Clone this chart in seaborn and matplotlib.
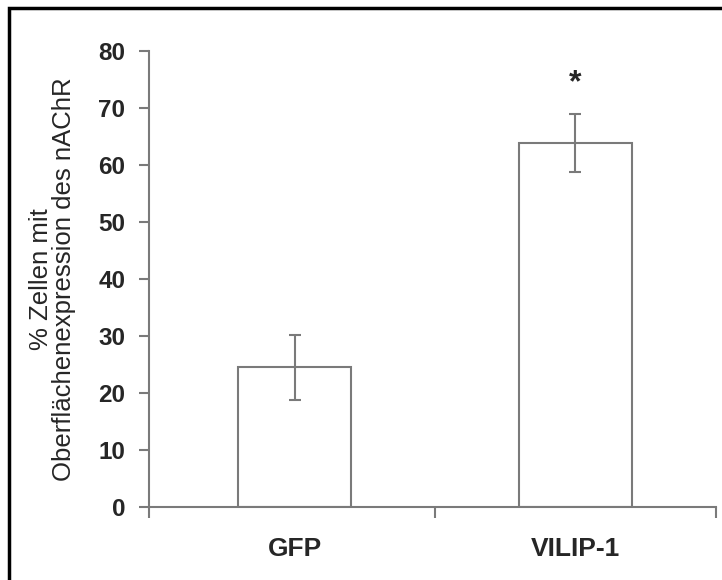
import seaborn as sns
import matplotlib.pyplot as plt
import pandas as pd

# Daten
gruppen = ["GFP", "VILIP-1"]
mittelwerte = [24.5, 63.9]
fehler = [5.7, 5.1]
signifikanz = ["", "*"]

df = pd.DataFrame({"gruppe": gruppen, "wert": mittelwerte})

sns.set_style("ticks")
plt.rcParams["font.family"] = ["Liberation Sans", "DejaVu Sans"]

grau = "#7a7a7a"

fig = plt.figure(figsize=(7.22, 5.80), dpi=100)
ax = fig.add_axes([0.2064, 0.126, 0.785, 0.786])

sns.barplot(x="gruppe", y="wert", data=df, ax=ax, color="white",
            edgecolor=grau, linewidth=1.5, width=0.40, errorbar=None)

# Fehlerbalken
ax.errorbar(range(len(gruppen)), mittelwerte, yerr=fehler, fmt="none",
            ecolor=grau, elinewidth=1.5, capsize=4, capthick=1.5)

# Sternchen
for i, (m, f, s) in enumerate(zip(mittelwerte, fehler, signifikanz)):
    if s:
        ax.text(i, m + f + 5.3, s, ha="center", va="center",
                fontsize=23, fontweight="bold")

ax.set_ylim(0, 80)
ax.set_xlim(-0.518, 1.5)
ax.set_yticks(range(0, 81, 10))
ax.set_xticks([-0.518, 0.5, 1.5], minor=True)
ax.tick_params(axis="x", which="major", length=0, pad=22)
ax.tick_params(axis="x", which="minor", length=8, width=1.5, color=grau,
               direction="out")
ax.tick_params(axis="y", length=7, width=1.5, color=grau, direction="out", pad=10)

for lab in ax.get_yticklabels():
    lab.set_fontsize(17.5)
    lab.set_fontweight("bold")
for lab in ax.get_xticklabels():
    lab.set_fontsize(19)
    lab.set_fontweight("bold")

ax.set_xlabel("")
ax.set_ylabel("% Zellen mit\nOberflächenexpression des nAChR", fontsize=18.5,
              linespacing=0.95, labelpad=16)

sns.despine(ax=ax)
for sp in ["left", "bottom"]:
    ax.spines[sp].set_color(grau)
    ax.spines[sp].set_linewidth(1.5)

# Rahmen (rechts und unten abgeschnitten)
rahmen = plt.Rectangle((0.012, -0.05), 1.1, 1.036, transform=fig.transFigure,
                       fill=False, edgecolor="black", linewidth=2.5)
fig.patches.append(rahmen)

fig.savefig("out.png", dpi=100)
